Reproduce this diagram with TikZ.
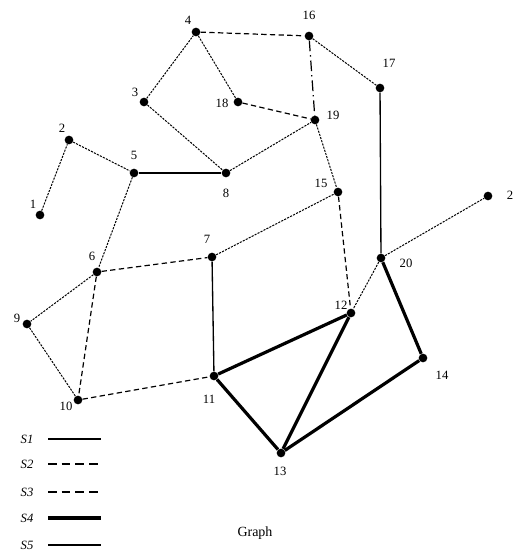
\documentclass[tikz,border=0pt]{standalone}
\usepackage{fontspec}
\setmainfont{Liberation Serif}
\begin{document}
\begin{tikzpicture}[x=0.75pt,y=-0.75pt,
  vtx/.style={circle,fill=black,inner sep=0pt,minimum size=6.5pt},
  lbl/.style={font=\fontsize{9.5}{10}\selectfont,inner sep=1pt},
  sone/.style={line width=1pt},
  stwo/.style={line width=0.9pt,dash pattern=on 4pt off 2.5pt},
  sthree/.style={line width=0.75pt,dash pattern=on 1.6pt off 0.9pt},
  sfour/.style={line width=2.4pt},
  sfive/.style={line width=1pt},
  keydash/.style={line width=0.9pt,dash pattern=on 6.5pt off 3.8pt}]
\useasboundingbox (0,0) rectangle (517,555);

% vertices
\node[vtx] (v1)  at (40,215)  {};
\node[vtx] (v2)  at (69,140)  {};
\node[vtx] (v3)  at (144,102) {};
\node[vtx] (v4)  at (196,32)  {};
\node[vtx] (v5)  at (134,173) {};
\node[vtx] (v6)  at (97,272)  {};
\node[vtx] (v7)  at (212,257) {};
\node[vtx] (v8)  at (226,173) {};
\node[vtx] (v9)  at (27,324)  {};
\node[vtx] (v10) at (78,400)  {};
\node[vtx] (v11) at (214,376) {};
\node[vtx] (v12) at (351,313) {};
\node[vtx] (v13) at (281,453) {};
\node[vtx] (v14) at (423,358) {};
\node[vtx] (v15) at (338,192) {};
\node[vtx] (v16) at (309,36)  {};
\node[vtx] (v17) at (380,88)  {};
\node[vtx] (v18) at (238,102) {};
\node[vtx] (v19) at (315,120) {};
\node[vtx] (v20) at (381,258) {};
\node[vtx] (v21) at (488,196) {};

% labels
\node[lbl] (l1)  at (33,204)  {1};
\node[lbl] (l2)  at (62,128)  {2};
\node[lbl] (l3)  at (135,92)  {3};
\node[lbl] (l4)  at (188,20)  {4};
\node[lbl] (l5)  at (134,155) {5};
\node[lbl] (l6)  at (92,256)  {6};
\node[lbl] (l7)  at (207,239) {7};
\node[lbl] (l8)  at (226,193) {8};
\node[lbl] (l9)  at (17,318)  {9};
\node[lbl] (l10) at (66,406)  {10};
\node[lbl] (l11) at (209,399) {11};
\node[lbl] (l12) at (341,305) {12};
\node[lbl] (l13) at (280,471) {13};
\node[lbl] (l14) at (442,375) {14};
\node[lbl] (l15) at (321,183) {15};
\node[lbl] (l16) at (309,15)  {16};
\node[lbl] (l17) at (389,63)  {17};
\node[lbl] (l18) at (222,103) {18};
\node[lbl] (l19) at (333,115) {19};
\node[lbl] (l20) at (406,263) {20};
\node[lbl] (l21) at (510,195) {2};

% edges
\draw[sthree] (v1) -- (v2);
\draw[sthree] (v2) -- (v5);
\draw[sthree] (v3) -- (v4);
\draw[sthree] (v4) -- (v18);
\draw[sthree] (v3) -- (v8);
\draw[sone]   (v5) -- (v8);
\draw[sthree] (v5) -- (v6);
\draw[stwo]   (v6) -- (v7);
\draw[sthree] (v6) -- (v9);
\draw[sthree] (v9) -- (v10);
\draw[stwo]   (v6) -- (v10);
\draw[stwo]   (v10) -- (v11);
\draw[sone]   (v7) -- (v11);
\draw[sthree] (v7) -- (v15);
\draw[sthree] (v8) -- (v19);
\draw[stwo]   (v18) -- (v19);
\draw[stwo]   (v4) -- (v16);
\draw[line width=0.9pt,dash pattern=on 8pt off 3pt on 1pt off 3pt] (v16) -- (v19);
\draw[sthree] (v16) -- (v17);
\draw[sone]   (v17) -- (v20);
\draw[sthree] (v19) -- (v15);
\draw[stwo]   (v15) -- (v12);
\draw[sthree] (v20) -- (v21);
\draw[sthree] (v20) -- (v12);
\draw[sfour]  (v11) -- (v12);
\draw[sfour]  (v11) -- (v13);
\draw[sfour]  (v13) -- (v12);
\draw[sfour]  (v13) -- (v14);
\draw[sfour]  (v14) -- (v20);

% legend
\foreach \i/\y/\s in {1/439/sone,2/464/keydash,3/492/keydash,4/518/sfour,5/545/sfive}{
  \node[lbl,font=\fontsize{9.5}{10}\selectfont\itshape] (k\i) at (27,\y) {S\i};
  \coordinate (ka\i) at (48,\y);
  \coordinate (kb\i) at (101,\y);
  \draw[\s] (ka\i) -- (kb\i);
}
\node[lbl,font=\fontsize{10.5}{11}\selectfont] (title) at (255,533) {Graph};
\end{tikzpicture}
\end{document}
